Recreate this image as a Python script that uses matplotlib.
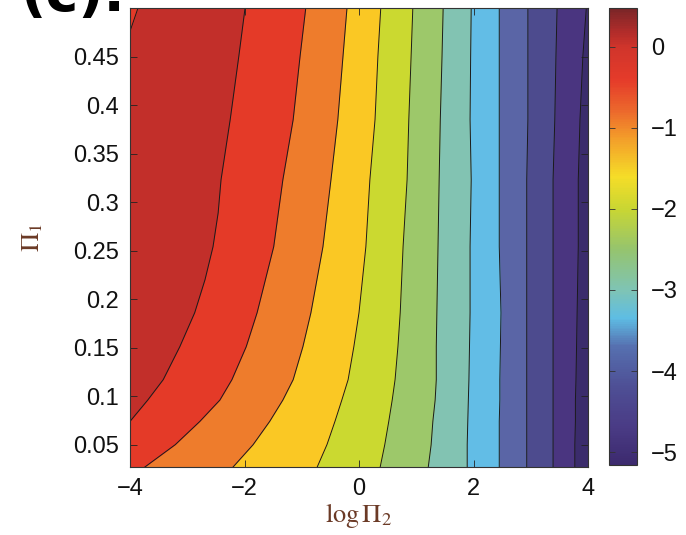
import matplotlib
matplotlib.use("Agg")
import matplotlib.pyplot as plt
from matplotlib.colors import LinearSegmentedColormap, Normalize
from matplotlib.cm import ScalarMappable

plt.rcParams['font.family'] = ['Liberation Sans', 'DejaVu Sans']
plt.rcParams['mathtext.fontset'] = 'stix'

# ---- data ----
# rows (Pi_1) at which the contour positions (log Pi_2) were read
rows_y = [0.500, 0.450, 0.385, 0.323, 0.254, 0.186, 0.151, 0.117, 0.096, 0.074, 0.050, 0.027]
# zero level, right branch (ends on the left edge)
zero_y = [0.500, 0.450, 0.385, 0.323, 0.289, 0.254, 0.220, 0.186, 0.151, 0.117, 0.096, 0.074]
zero_x = [-1.99, -2.10, -2.25, -2.41, -2.46, -2.55, -2.69, -2.87, -3.13, -3.42, -3.69, -4.00]
# zero level, left branch (top-left corner)
zero_left_y = [0.476, 0.500]
zero_left_x = [-4.00, -3.86]
line_m05 = [-0.93, -1.03, -1.15, -1.33, -1.49, -1.78, -1.97, -2.22, -2.43, -2.78, -3.21, -3.74]
line_m10 = [-0.21, -0.28, -0.37, -0.49, -0.63, -0.84, -0.98, -1.15, -1.33, -1.56, -1.85, -2.20]
line_m15 = [0.38, 0.33, 0.28, 0.19, 0.12, 0.00, -0.09, -0.19, -0.30, -0.42, -0.56, -0.73]
line_m20 = [0.94, 0.91, 0.87, 0.84, 0.77, 0.72, 0.68, 0.63, 0.58, 0.52, 0.45, 0.37]
line_m25 = [1.47, 1.45, 1.42, 1.40, 1.38, 1.36, 1.35, 1.35, 1.33, 1.29, 1.26, 1.21]
line_m30 = [1.96, 1.95, 1.94, 1.96, 1.94, 1.94, 1.93, 1.92, 1.91, 1.90, 1.89, 1.89]
line_m35 = [2.45, 2.45, 2.45, 2.45, 2.45, 2.48, 2.47, 2.46, 2.46, 2.45, 2.45, 2.45]
line_m40 = [2.95, 2.95, 2.95, 2.93, 2.93, 2.93, 2.93, 2.93, 2.93, 2.93, 2.93, 2.93]
line_m45 = [3.46, 3.44, 3.42, 3.39, 3.39, 3.39, 3.39, 3.39, 3.39, 3.39, 3.39, 3.39]
line_m50 = [3.97, 3.91, 3.86, 3.83, 3.83, 3.81, 3.80, 3.79, 3.78, 3.78, 3.77, 3.77]

# fill colour of the band whose lower bound is the given level
band_colors = {
    0.0: '#c22f2a', -0.5: '#e43a28', -1.0: '#ee7c2c', -1.5: '#fac824',
    -2.0: '#cbd930', -2.5: '#9dc86a', -3.0: '#82c3b2', -3.5: '#62bde6',
    -4.0: '#5a65a6', -4.5: '#4d4b8e', -5.0: '#4a3580', -5.5: '#3b2c6c',
}

# colour bar gradient
cbar_vals = [-5.16, -4.7, -4.2, -3.7, -3.35, -3.0, -2.5, -2.0, -1.6, -1.1, -0.8, -0.4, 0.0, 0.2, 0.48]
cbar_cols = ['#3c2a6e', '#4a3b85', '#4e4f95', '#5670b0', '#5ebde4', '#7fc4b4', '#95c46e',
             '#c9d633', '#f5dd28', '#f39a2a', '#ec6a2c', '#e53b2a', '#d0352b', '#b02c2a', '#7a2628']
cbar_ticks = [0, -1, -2, -3, -4, -5]

xticks = [-4, -2, 0, 2, 4]
yticks = [0.05, 0.1, 0.15, 0.2, 0.25, 0.3, 0.35, 0.4, 0.45]

# ---- figure ----
fig = plt.figure(figsize=(6.86, 5.35), dpi=100)
ax = fig.add_axes([130/686, 1-467/535, 458/686, 459/535])
XMIN, XMAX = -4.0, 4.0
YMIN, YMAX = 0.027, 0.5
ax.set_facecolor(band_colors[-5.5])

line_x = {-0.5: line_m05, -1.0: line_m10, -1.5: line_m15, -2.0: line_m20,
          -2.5: line_m25, -3.0: line_m30, -3.5: line_m35, -4.0: line_m40,
          -4.5: line_m45, -5.0: line_m50}

lc = '#1a1a1a'
lw = 0.7
# paint from the right-most level to the left-most
for lev in sorted(line_x.keys()):
    ax.fill_betweenx(rows_y, XMIN - 1, line_x[lev], color=band_colors[lev], lw=0)
ax.fill_betweenx(zero_y, XMIN - 1, zero_x, color=band_colors[0.0], lw=0)
ax.fill_betweenx(zero_left_y, XMIN - 1, zero_left_x, color=band_colors[-0.5], lw=0)

for lev in sorted(line_x.keys()):
    ax.plot(line_x[lev], rows_y, color=lc, lw=lw)
ax.plot(zero_x, zero_y, color=lc, lw=lw)
ax.plot(zero_left_x, zero_left_y, color=lc, lw=lw)

ax.set_xlim(XMIN, XMAX)
ax.set_ylim(YMIN, YMAX)
ax.set_xticks(xticks)
ax.set_xticklabels(['\u22124', '\u22122', '0', '2', '4'])
ax.set_yticks(yticks)
ax.set_yticklabels([f'{v:g}' for v in yticks])
ax.tick_params(direction='in', top=True, right=True, length=5, width=0.6,
               labelsize=17, pad=8, colors='#222222', labelcolor='#111111')
for s in ax.spines.values():
    s.set_linewidth(0.8)
    s.set_color('#333333')

ax.set_xlabel(r'$\log\Pi_2$', fontsize=19, color='#6b3a26', labelpad=1)
ax.set_ylabel(r'$\Pi_1$', fontsize=19, color='#6b3a26', labelpad=20)

# colour bar
cmap = LinearSegmentedColormap.from_list(
    'ref', [((v - cbar_vals[0]) / (cbar_vals[-1] - cbar_vals[0]), c) for v, c in zip(cbar_vals, cbar_cols)])
sm = ScalarMappable(norm=Normalize(cbar_vals[0], cbar_vals[-1]), cmap=cmap)
cax = fig.add_axes([609/686, 1-465/535, 28/686, 457/535])
cb = fig.colorbar(sm, cax=cax)
cb.set_ticks(cbar_ticks)
cb.set_ticklabels(['0', '\u22121', '\u22122', '\u22123', '\u22124', '\u22125'])
cax.tick_params(direction='in', left=True, right=True, length=4, width=0.6,
                labelsize=17, pad=10, colors='#333333', labelcolor='#111111')
cb.outline.set_linewidth(0.8)
cb.outline.set_edgecolor('#333333')

fig.text(125/686, 1 - 11/535, '(c).', fontsize=40, fontweight='bold',
         ha='right', va='baseline', family='DejaVu Sans')

fig.savefig('out.png', dpi=100)
